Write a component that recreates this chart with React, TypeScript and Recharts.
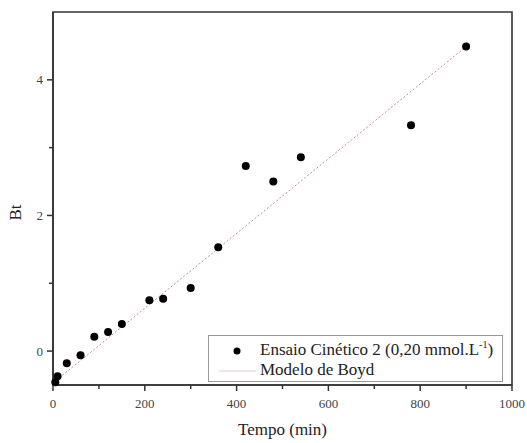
import {
  ComposedChart,
  Scatter,
  Line,
  XAxis,
  YAxis,
  ReferenceArea,
} from "recharts";

const tempo = [5, 10, 30, 60, 90, 120, 150, 210, 240, 300, 360, 420, 480, 540, 780, 900];
const bt = [-0.46, -0.37, -0.18, -0.06, 0.21, 0.28, 0.4, 0.75, 0.77, 0.93, 1.53, 2.73, 2.5, 2.86, 3.33, 4.49];

const modeloTempo = [0, 900];
const modeloBt = [-0.47, 4.49];

const xTicks = [0, 100, 200, 300, 400, 500, 600, 700, 800, 900, 1000];
const yTicks = [0, 1, 2, 3, 4];

const ensaio = tempo.map((t, i) => ({ x: t, y: bt[i] }));
const boyd = modeloTempo.map((t, i) => ({ x: t, y: modeloBt[i] }));

const font = "Liberation Serif, Tinos, Times New Roman, DejaVu Serif, serif";
const axisColor = "#333";

// major ticks get a label and a longer line, minor ones just a short line
function XTick({ x, y, payload }: any) {
  const major = payload.value % 200 === 0;
  return (
    <g>
      <line x1={x} y1={y} x2={x} y2={y + (major ? 6 : 4)} stroke={axisColor} strokeWidth={1.5} />
      {major && (
        <text x={x} y={y + 23} textAnchor="middle" fontSize={13} fontFamily={font} fill="#444">
          {payload.value}
        </text>
      )}
    </g>
  );
}

function YTick({ x, y, payload }: any) {
  const major = payload.value % 2 === 0;
  return (
    <g>
      <line x1={x} y1={y} x2={x - (major ? 6 : 4)} y2={y} stroke={axisColor} strokeWidth={1.5} />
      {major && (
        <text x={x - 10} y={y + 4.5} textAnchor="end" fontSize={13} fontFamily={font} fill="#444">
          {payload.value}
        </text>
      )}
    </g>
  );
}

function XLabel({ viewBox }: any) {
  return (
    <text
      x={viewBox.x + viewBox.width / 2}
      y={viewBox.y + 50}
      textAnchor="middle"
      fontSize={17}
      fontFamily={font}
      fill="#222"
    >
      Tempo (min)
    </text>
  );
}

function YLabel({ viewBox }: any) {
  const cx = viewBox.x + 15;
  const cy = viewBox.y + viewBox.height / 2 + 14;
  return (
    <text
      x={cx}
      y={cy}
      transform={`rotate(-90, ${cx}, ${cy})`}
      textAnchor="middle"
      dominantBaseline="central"
      fontSize={17}
      fontFamily={font}
      fill="#222"
    >
      Bt
    </text>
  );
}

function Legenda() {
  return (
    <div
      style={{
        position: "absolute",
        left: 208,
        top: 335,
        width: 295,
        height: 47,
        border: "1px solid #999",
        background: "#fff",
        boxSizing: "border-box",
        fontFamily: font,
        fontSize: 17,
        color: "#222",
      }}
    >
      <svg width={295} height={47} style={{ position: "absolute", left: 0, top: 0 }}>
        <circle cx={28} cy={15} r={3.5} fill="#000" />
        <line x1={10} y1={35} x2={47} y2={35} stroke="#ecc8c8" strokeWidth={1} />
      </svg>
      <div style={{ position: "absolute", left: 51, top: 4, whiteSpace: "nowrap", lineHeight: "20px" }}>
        Ensaio Cinético 2 (0,20 mmol.L<sup style={{ fontSize: 10, lineHeight: 0 }}>-1</sup>)
      </div>
      <div style={{ position: "absolute", left: 51, top: 24, whiteSpace: "nowrap", lineHeight: "20px" }}>
        Modelo de Boyd
      </div>
    </div>
  );
}

export default function App() {
  return (
    <div
      style={{
        position: "fixed",
        left: 0,
        top: 0,
        width: 527,
        height: 443,
        background: "#fff",
        overflow: "hidden",
      }}
    >
      <ComposedChart
        width={527}
        height={443}
        margin={{ top: 12, right: 15, left: 0, bottom: 0 }}
      >
        <XAxis
          type="number"
          dataKey="x"
          domain={[0, 1000]}
          ticks={xTicks}
          interval={0}
          height={58}
          tick={<XTick />}
          tickLine={false}
          tickSize={0}
          tickMargin={0}
          stroke={axisColor}
          strokeWidth={1.6}
          label={<XLabel />}
        />
        <YAxis
          type="number"
          dataKey="y"
          domain={[-0.5, 5]}
          ticks={yTicks}
          interval={0}
          width={53}
          tick={<YTick />}
          tickLine={false}
          tickSize={0}
          tickMargin={0}
          stroke={axisColor}
          strokeWidth={1.6}
          label={<YLabel />}
        />
        <ReferenceArea
          x1={0}
          x2={1000}
          y1={-0.5}
          y2={5}
          fill="none"
          stroke={axisColor}
          strokeWidth={1.6}
          ifOverflow="visible"
        />
        <Line
          data={boyd}
          dataKey="y"
          type="linear"
          stroke="#d08a8a"
          strokeWidth={1}
          strokeDasharray="2 2"
          dot={false}
          activeDot={false}
          isAnimationActive={false}
          legendType="none"
        />
        <Scatter
          data={ensaio}
          dataKey="y"
          fill="#000"
          isAnimationActive={false}
          shape={(p: any) => <circle cx={p.cx} cy={p.cy} r={4} fill="#000" />}
        />
      </ComposedChart>
      <Legenda />
    </div>
  );
}
